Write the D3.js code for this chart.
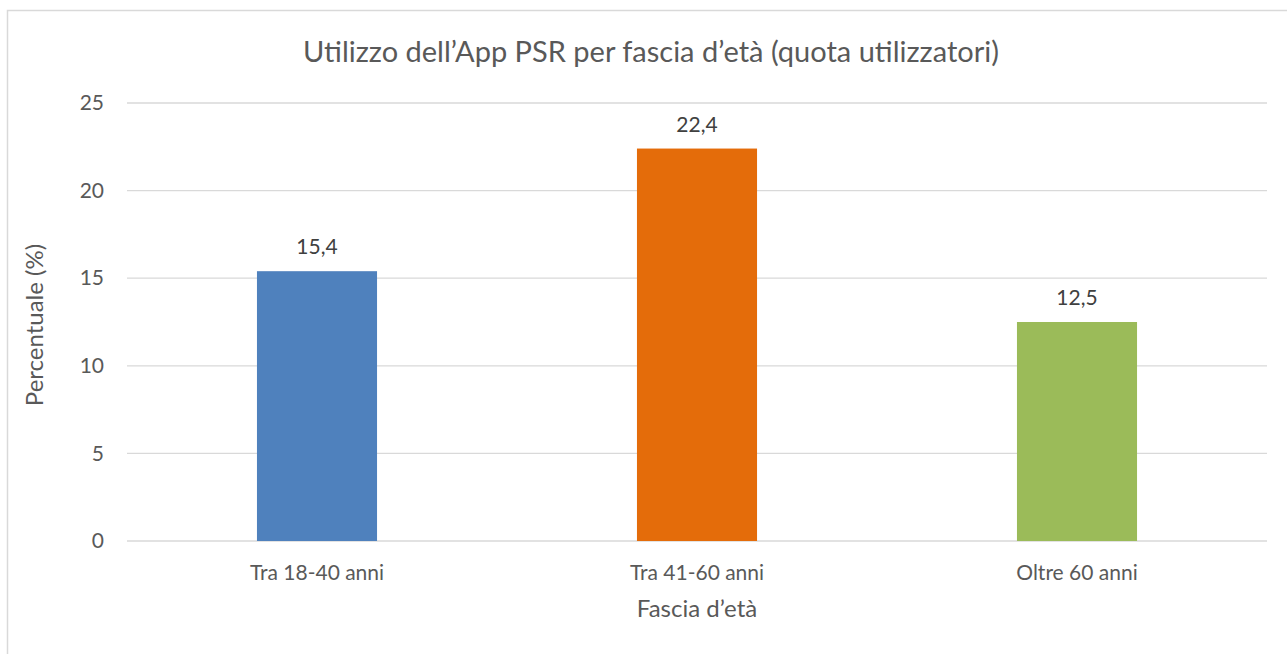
<!DOCTYPE html>
<html>
<head>
<meta charset="utf-8">
<script src="https://cdn.jsdelivr.net/npm/d3@7"></script>
<style>
  html, body { margin: 0; padding: 0; background: #fff; }
  svg { display: block; }
  text { font-family: Lato, "Open Sans", sans-serif; fill: #595959; }
</style>
</head>
<body>
<svg id="chart" width="1287" height="654"></svg>
<script>
// Quota di utilizzatori dell'App PSR per fascia d'età
const categories = ["Tra 18-40 anni", "Tra 41-60 anni", "Oltre 60 anni"];
const values = [15.4, 22.4, 12.5];
const colors = ["#4f81bd", "#e46c0a", "#9bbb59"];
const yTicks = [0, 5, 10, 15, 20, 25];

const svg = d3.select("#chart");
const W = 1287, H = 654;
const plot = { left: 127, right: 1267, top: 103, bottom: 541 };
const FONT = "Lato, 'Open Sans', sans-serif";

// outer frame
svg.append("rect")
  .attr("x", 7.5).attr("y", 10.5)
  .attr("width", W + 10).attr("height", H + 10)
  .attr("fill", "none").attr("stroke", "#d9d9d9").attr("stroke-width", 1.5);

const x = d3.scaleBand()
  .domain(categories)
  .range([plot.left, plot.right])
  .paddingInner(0.684)
  .paddingOuter(0.342);

const y = d3.scaleLinear().domain([0, 25]).range([plot.bottom, plot.top]);

// gridlines
svg.append("g")
  .selectAll("line")
  .data(yTicks)
  .join("line")
  .attr("x1", plot.left).attr("x2", plot.right)
  .attr("y1", d => y(d)).attr("y2", d => y(d))
  .attr("stroke", "#d9d9d9").attr("stroke-width", 1.3);

// y tick labels
const yAxis = d3.axisLeft(y).tickValues(yTicks).tickSize(0).tickPadding(23);
const gy = svg.append("g").attr("transform", `translate(${plot.left},0)`).call(yAxis);
gy.select(".domain").remove();
gy.selectAll("text").style("font-size", "21px").attr("fill", "#595959")
  .style("font-family", FONT);

// bars
svg.append("g")
  .selectAll("rect")
  .data(values)
  .join("rect")
  .attr("x", (d, i) => x(categories[i]))
  .attr("width", x.bandwidth())
  .attr("y", d => y(d))
  .attr("height", d => y(0) - y(d))
  .attr("fill", (d, i) => colors[i]);

// value labels
svg.append("g")
  .selectAll("text")
  .data(values)
  .join("text")
  .attr("x", (d, i) => x(categories[i]) + x.bandwidth() / 2)
  .attr("y", d => y(d) - 17)
  .attr("text-anchor", "middle")
  .style("font-size", "21px")
  .style("fill", "#404040")
  .text(d => d.toFixed(1).replace(".", ","));

// x axis labels
const xAxis = d3.axisBottom(x).tickSize(0).tickPadding(24);
const gx = svg.append("g").attr("transform", `translate(0,${plot.bottom})`).call(xAxis);
gx.select(".domain").remove();
gx.selectAll("text").style("font-size", "21px").attr("fill", "#595959")
  .style("font-family", FONT);

// title
svg.append("text")
  .attr("x", 651).attr("y", 62)
  .attr("text-anchor", "middle")
  .style("font-size", "29px")
  .text("Utilizzo dell\u2019App PSR per fascia d\u2019et\u00e0 (quota utilizzatori)");

// axis titles
svg.append("text")
  .attr("x", 697).attr("y", 617)
  .attr("text-anchor", "middle")
  .style("font-size", "24px")
  .text("Fascia d\u2019et\u00e0");

svg.append("text")
  .attr("transform", `translate(43,${(plot.top + plot.bottom) / 2 + 3}) rotate(-90)`)
  .attr("text-anchor", "middle")
  .style("font-size", "24px")
  .text("Percentuale (%)");
</script>
</body>
</html>
